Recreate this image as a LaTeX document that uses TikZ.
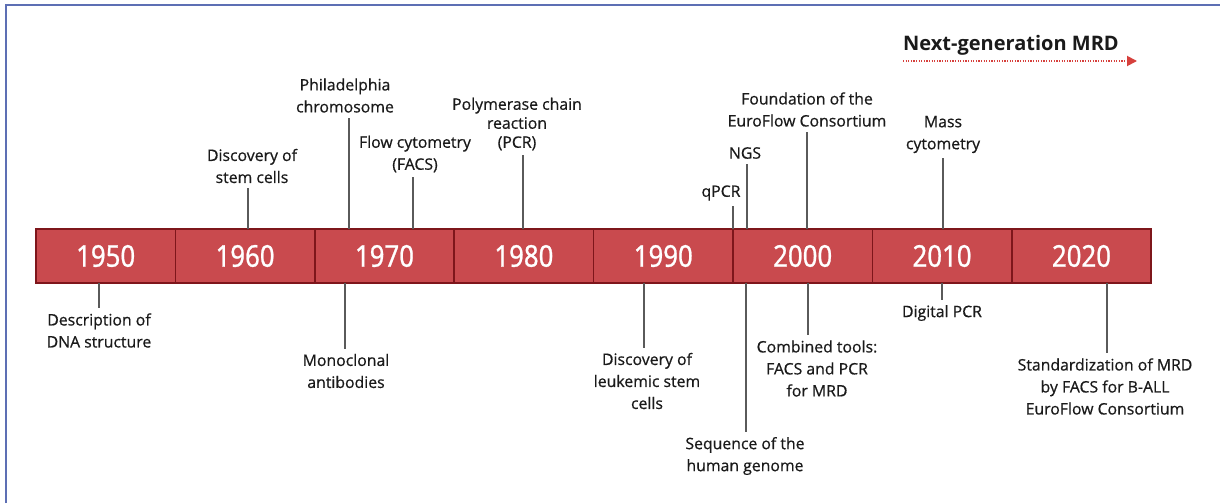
\documentclass[tikz,border=0pt]{standalone}
\usepackage{fontspec}
\setmainfont[FakeBold=0.6]{Open Sans}
\newfontfamily\yearfont[FakeStretch=0.86,FakeBold=0.8]{Noto Sans}
\newfontfamily\headfont{Open Sans}
\usetikzlibrary{arrows.meta}
\definecolor{barfill}{HTML}{C94A4E}
\definecolor{bardark}{HTML}{7E161B}
\definecolor{stem}{HTML}{5A5A5A}
\definecolor{frameblue}{HTML}{5D6FB4}
\definecolor{txt}{HTML}{1A1A1A}
\definecolor{mrdred}{HTML}{D6403C}
\tikzset{
  decade/.style={draw=bardark, line width=1.6pt, fill=barfill, minimum width=139.4pt,
    minimum height=54pt, inner sep=0pt, text=white, font=\yearfont\fontsize{30}{30}\selectfont},
  event/.style={align=center, text=txt, inner sep=0pt, font=\fontsize{15.8}{22}\selectfont},
  tick/.style={draw=stem, line width=2pt}
}
\begin{document}
\begin{tikzpicture}[x=1pt,y=-1pt]
\useasboundingbox (0,0) rectangle (1220,503);
\fill[white] (0,0) rectangle (1220,503);
% frame
\draw[frameblue, line width=1.5pt] (6,503) -- (6,5) -- (1220,5);

% decade bar
\foreach \yr [count=\i from 0] in {1950,1960,1970,1980,1990,2000,2010,2020} {
  \node[decade] (d\yr) at (105.7+139.4*\i, 256) {\yr};
}

% events above the bar
\node[event] (stemcells) at (252,166) {Discovery of\\stem cells};
\node[event] (phil) at (345,95.5) {Philadelphia\\chromosome};
\node[event] (facs) at (415,154) {Flow cytometry\\(FACS)};
\node[event, font=\fontsize{15.8}{19}\selectfont] (pcr) at (517,124) {Polymerase chain\\reaction\\(PCR)};
\node[event] (qpcr) at (721,193) {qPCR};
\node[event] (ngs) at (745,153) {NGS};
\node[event] (euroflow) at (807,109.5) {Foundation of the\\EuroFlow Consortium};
\node[event] (mass) at (943,134.5) {Mass\\cytometry};

% events below the bar
\node[event] (dna) at (99,330.5) {Description of\\DNA structure};
\node[event] (mab) at (346,371) {Monoclonal\\antibodies};
\node[event] (lsc) at (647,381) {Discovery of\\leukemic stem\\cells};
\node[event] (genome) at (745,456) {Sequence of the\\human genome};
\node[event] (combined) at (817,368.5) {Combined tools:\\FACS and PCR\\for MRD};
\node[event] (dpcr) at (942,313) {Digital PCR};
\node[event] (std) at (1105,386.5) {Standardization of MRD\\by FACS for B-ALL\\EuroFlow Consortium};

% attachment points on the bar
\coordinate (a1) at (248,229);
\coordinate (a2) at (349,229);
\coordinate (a3) at (413,229);
\coordinate (a4) at (523,229);
\coordinate (a5) at (733,229);
\coordinate (a6) at (747,229);
\coordinate (a7) at (807,229);
\coordinate (a8) at (943,229);
\coordinate (b1) at (99,283);
\coordinate (b2) at (345,283);
\coordinate (b3) at (644,283);
\coordinate (b4) at (746,283);
\coordinate (b5) at (808,283);
\coordinate (b6) at (942,283);
\coordinate (b7) at (1107,283);

% ticks
\draw[tick] (a1) -- ([yshift=-5pt]a1 |- stemcells.south);
\draw[tick] (a2) -- ([yshift=-5pt]a2 |- phil.south);
\draw[tick] (a3) -- ([yshift=-5pt]a3 |- facs.south);
\draw[tick] (a4) -- ([yshift=-5pt]a4 |- pcr.south);
\draw[tick] (a5) -- ([yshift=-5pt]a5 |- qpcr.south);
\draw[tick] (a6) -- ([yshift=-5pt]a6 |- ngs.south);
\draw[tick] (a7) -- ([yshift=-5pt]a7 |- euroflow.south);
\draw[tick] (a8) -- ([yshift=-5pt]a8 |- mass.south);
\draw[tick] (b1) -- ([yshift=5pt]b1 |- dna.north);
\draw[tick] (b2) -- ([yshift=5pt]b2 |- mab.north);
\draw[tick] (b3) -- ([yshift=5pt]b3 |- lsc.north);
\draw[tick] (b4) -- ([yshift=5pt]b4 |- genome.north);
\draw[tick] (b5) -- ([yshift=5pt]b5 |- combined.north);
\draw[tick] (b6) -- ([yshift=5pt]b6 |- dpcr.north);
\draw[tick] (b7) -- ([yshift=5pt]b7 |- std.north);

% next-generation MRD arrow
\node[text=txt, inner sep=0pt, font=\headfont\bfseries\fontsize{20}{22}\selectfont] (ngmrd) at (1011,45) {Next-generation MRD};
\coordinate (mrdstart) at (903,61);
\coordinate (mrdend) at (1137,61);
\draw[mrdred, line width=1.8pt, dash pattern=on 1.2pt off 1.4pt,
  -{Triangle[length=10pt,width=10pt]}] (mrdstart) -- (mrdend);
\end{tikzpicture}
\end{document}
